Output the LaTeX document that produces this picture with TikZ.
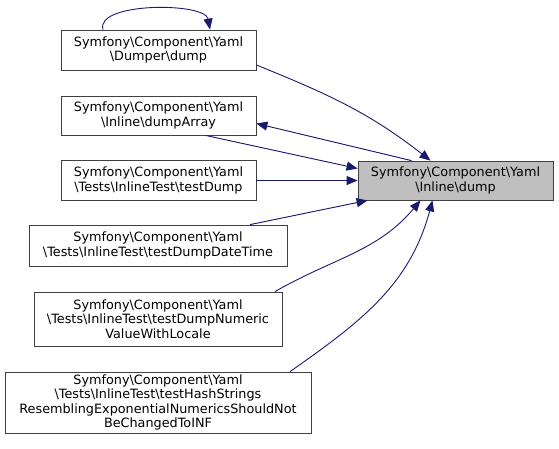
\documentclass[tikz,border=0pt]{standalone}
\usepackage{fontspec}
\setmainfont{DejaVu Sans}
\usetikzlibrary{arrows.meta}
\definecolor{edgeblue}{HTML}{191970}
\definecolor{callgray}{HTML}{BFBFBF}
\newcommand\bsl{\textbackslash}

\begin{document}
\begin{tikzpicture}[x=1pt,y=1pt,>={Triangle[length=11pt,width=9pt]},
  fn/.style={draw=black!75,line width=0.8pt,align=center,inner sep=0pt,
    font=\fontsize{12.8}{14.5}\selectfont},
  edge/.style={->,draw=edgeblue,fill=edgeblue,line width=0.9pt}]
  \useasboundingbox (0,0) rectangle (559,-448);

  \node[fn,minimum width=195pt,minimum height=40pt] (dumperdump) at (158.5,-50)
    {Symfony\bsl Component\bsl Yaml\\\bsl Dumper\bsl dump};
  \node[fn,minimum width=195pt,minimum height=39pt] (dumparray) at (158.5,-115.5)
    {Symfony\bsl Component\bsl Yaml\\\bsl Inline\bsl dumpArray};
  \node[fn,minimum width=195pt,minimum height=40pt] (testdump) at (158.5,-180.5)
    {Symfony\bsl Component\bsl Yaml\\\bsl Tests\bsl InlineTest\bsl testDump};
  \node[fn,minimum width=258pt,minimum height=41pt] (testdatetime) at (158,-245.5)
    {Symfony\bsl Component\bsl Yaml\\\bsl Tests\bsl InlineTest\bsl testDumpDateTime};
  \node[fn,minimum width=248pt,minimum height=54pt] (testlocale) at (158,-319)
    {Symfony\bsl Component\bsl Yaml\\\bsl Tests\bsl InlineTest\bsl testDumpNumeric\\ValueWithLocale};
  \node[fn,minimum width=306pt,minimum height=61pt] (testhash) at (158,-402.5)
    {Symfony\bsl Component\bsl Yaml\\\bsl Tests\bsl InlineTest\bsl testHashStrings\\ResemblingExponentialNumericsShouldNot\\BeChangedToINF};
  \node[fn,fill=callgray,minimum width=195pt,minimum height=39pt] (inlinedump) at (455.5,-180.5)
    {Symfony\bsl Component\bsl Yaml\\\bsl Inline\bsl dump};

  % self call
  \draw[edge,fill=none] ([xshift=-55.5pt]dumperdump.north) .. controls (95,-2) and (205,-2) .. ([xshift=51.5pt]dumperdump.north);
  % callers of Inline dump
  \draw[edge,fill=none] ([yshift=-15pt]dumperdump.east) to[out=-22,in=142] ([xshift=-25pt]inlinedump.north);
  \draw[edge] ([xshift=-44pt]inlinedump.north) -- ([yshift=-8pt]dumparray.east);
  \draw[edge] ([xshift=47pt]dumparray.south) -- ([yshift=12pt]inlinedump.west);
  \draw[edge] (testdump.east) -- (inlinedump.west);
  \draw[edge] ([xshift=92pt]testdatetime.north) -- ([xshift=10pt]inlinedump.south west);
  \draw[edge,fill=none] ([xshift=117pt]testlocale.north) to[out=30,in=-130] ([xshift=-35pt]inlinedump.south);
  \draw[edge,fill=none] ([xshift=132pt]testhash.north) to[out=35,in=-105] ([xshift=-23pt]inlinedump.south);
\end{tikzpicture}
\end{document}
